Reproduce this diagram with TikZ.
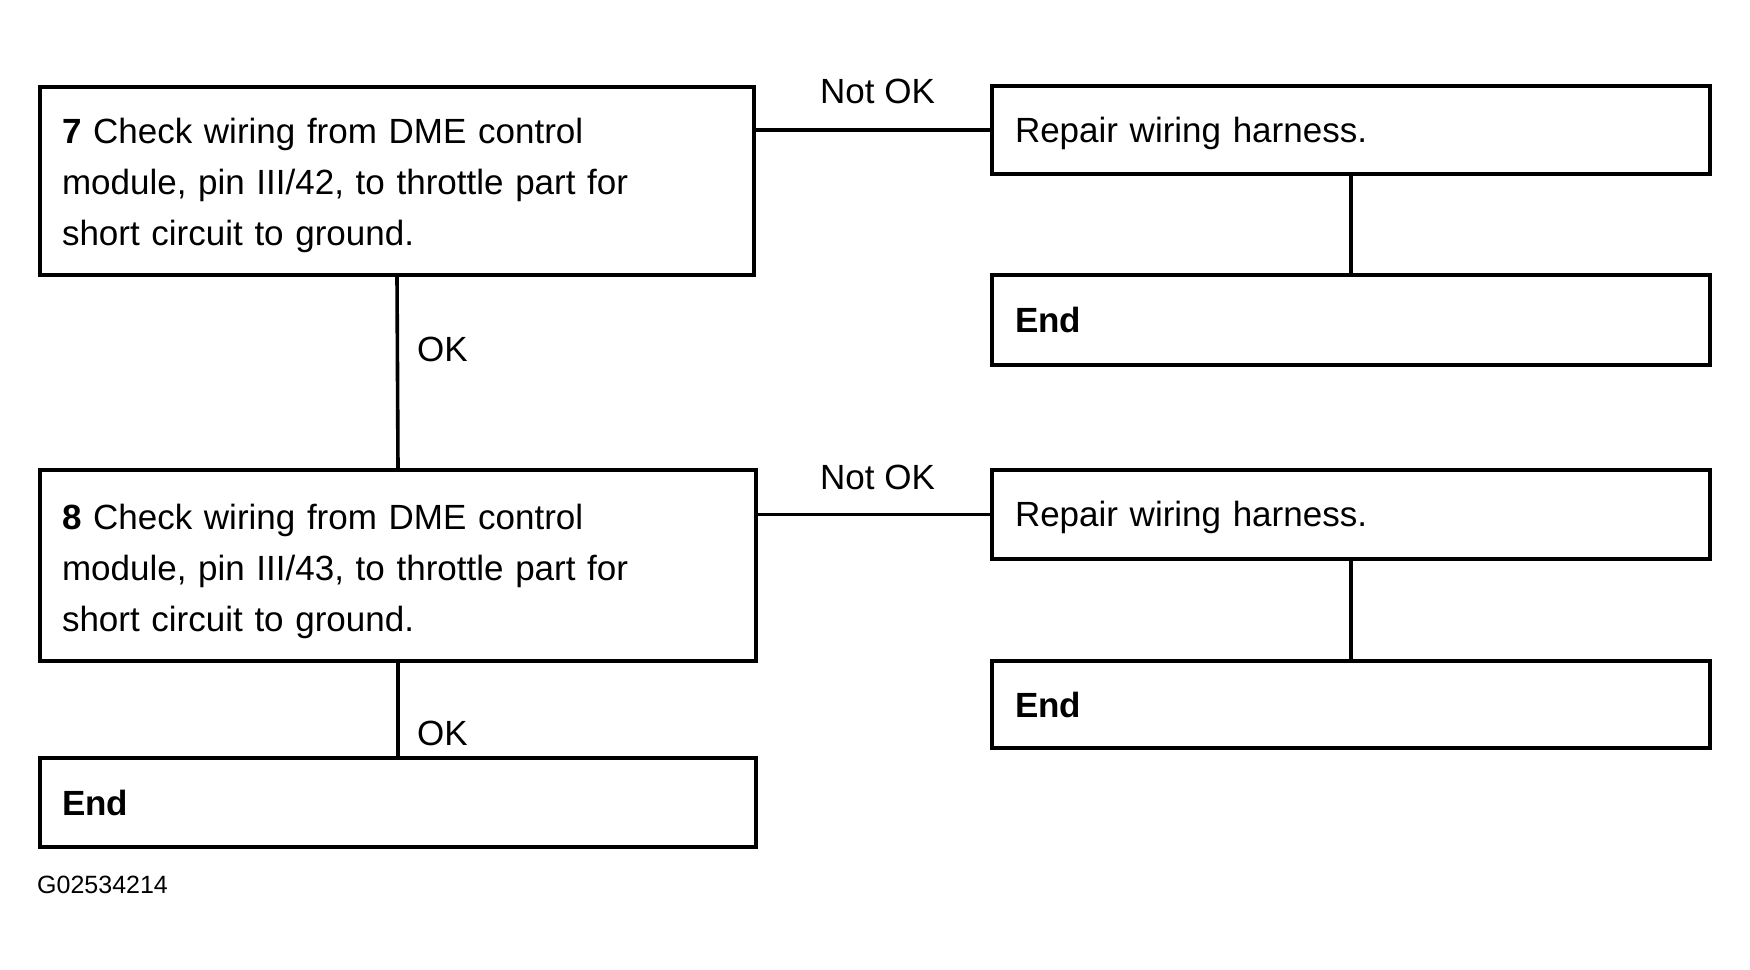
\documentclass[tikz,border=0pt]{standalone}
\usepackage{fontspec}
\setmainfont{Liberation Sans}
\newcommand{\topstrut}[1]{\rule{0pt}{#1}}
\begin{document}
\begin{tikzpicture}[x=1pt,y=-1pt,
  box/.style={draw, line width=3.6pt, rectangle, inner sep=0pt, align=left,
    font=\fontsize{35}{51}\selectfont},
  lbl/.style={anchor=base west, inner sep=0pt, font=\fontsize{35}{45}\selectfont},
  conn/.style={line width=3.6pt}]
\useasboundingbox (0,0) rectangle (1750,969);
% left column
\node[box, minimum width=714pt, minimum height=188pt, text width=670pt] (b7) at (397,181)
  {\topstrut{34pt}\textbf{7} Check wiring from DME control\\module, pin III/42, to throttle part for\\short circuit to ground.};
\node[box, minimum width=716pt, minimum height=191pt, text width=672pt] (b8) at (398,565.5)
  {\topstrut{38pt}\textbf{8} Check wiring from DME control\\module, pin III/43, to throttle part for\\short circuit to ground.};
\node[box, minimum width=716pt, minimum height=89pt, text width=672pt] (e3) at (398,802.5)
  {\textbf{End}};
% right column
\node[box, minimum width=718pt, minimum height=88pt, text width=672pt] (r1) at (1351,130)
  {\topstrut{32pt}Repair wiring harness.};
\node[box, minimum width=718pt, minimum height=90pt, text width=672pt] (e1) at (1351,320)
  {\textbf{End}};
\node[box, minimum width=718pt, minimum height=89pt, text width=672pt] (r2) at (1351,514.5)
  {\topstrut{32pt}Repair wiring harness.};
\node[box, minimum width=718pt, minimum height=87pt, text width=672pt] (e2) at (1351,704.5)
  {\textbf{End}};
% connectors
\draw[conn] (r1.west -| b7.east) -- (r1.west);
\draw[conn] (r2.west -| b8.east) -- (r2.west);
\draw[conn] (b7.south) -- (b8.north);
\draw[conn] (b8.south) -- (e3.north);
\draw[conn] (r1.south) -- (e1.north);
\draw[conn] (r2.south) -- (e2.north);
% labels
\node[lbl] (n1) at (820,103) {Not OK};
\node[lbl] (n2) at (820,489) {Not OK};
\node[lbl] (k1) at (417,361) {OK};
\node[lbl] (k2) at (417,745) {OK};
\node[anchor=base west, inner sep=0pt, font=\fontsize{25}{28}\selectfont] (id) at (37,893) {G02534214};
\end{tikzpicture}
\end{document}
